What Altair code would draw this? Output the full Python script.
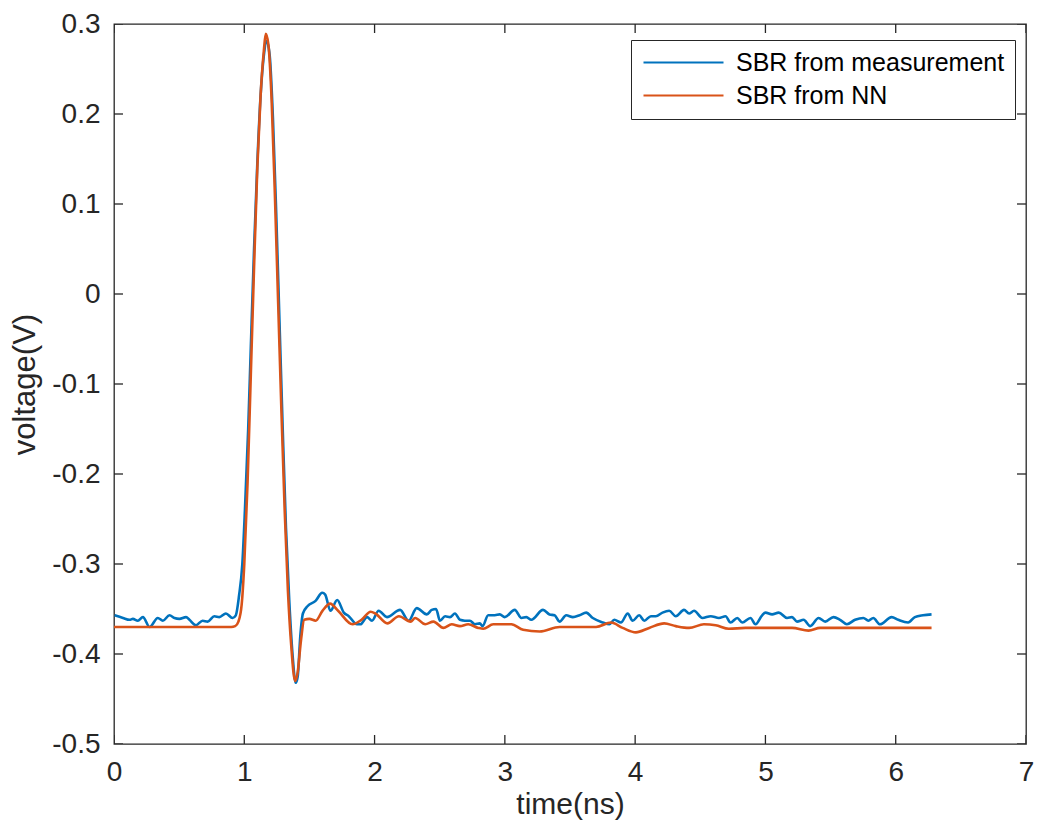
import altair as alt
import pandas as pd

series_names = ["SBR from measurement", "SBR from NN"]
series_colors = ["#0072BD", "#D95319"]
x_ticks = [0, 1, 2, 3, 4, 5, 6, 7]
y_ticks = [-0.5, -0.4, -0.3, -0.2, -0.1, 0, 0.1, 0.2, 0.3]
x_range = [0, 7]
y_range = [-0.5, 0.3]

meas_t = [0.005, 0.069, 0.120, 0.145, 0.183, 0.222, 0.273, 0.336, 0.375, 0.426,
          0.464, 0.502, 0.553, 0.579, 0.629, 0.680, 0.719, 0.770, 0.808, 0.859,
          0.910, 0.935, 0.960, 0.985, 1.005, 1.030, 1.050, 1.075, 1.100, 1.125,
          1.150, 1.172, 1.195, 1.220, 1.245, 1.270, 1.295, 1.320, 1.345, 1.370,
          1.395, 1.410, 1.430, 1.450, 1.485, 1.547, 1.598, 1.621, 1.661, 1.713,
          1.764, 1.802, 1.865, 1.891, 1.942, 1.980, 2.031, 2.095, 2.196, 2.261,
          2.324, 2.401, 2.439, 2.472, 2.502, 2.541, 2.579, 2.617, 2.655, 2.693,
          2.732, 2.770, 2.808, 2.829, 2.872, 2.923, 2.961, 2.999, 3.076, 3.127,
          3.165, 3.203, 3.293, 3.343, 3.382, 3.420, 3.471, 3.522, 3.573, 3.624,
          3.675, 3.752, 3.802, 3.840, 3.891, 3.943, 3.981, 4.031, 4.070, 4.121,
          4.159, 4.210, 4.261, 4.312, 4.375, 4.414, 4.452, 4.516, 4.580, 4.643,
          4.694, 4.732, 4.784, 4.822, 4.885, 4.924, 4.975, 5.000, 5.051, 5.102,
          5.166, 5.204, 5.242, 5.293, 5.344, 5.408, 5.459, 5.522, 5.573, 5.625,
          5.688, 5.752, 5.790, 5.828, 5.879, 5.969, 6.019, 6.095, 6.147, 6.210,
          6.275]
meas_v = [-0.357, -0.360, -0.362, -0.361, -0.363, -0.359, -0.370, -0.360, -0.363, -0.357,
          -0.360, -0.361, -0.359, -0.362, -0.368, -0.363, -0.364, -0.358, -0.359, -0.355,
          -0.360, -0.357, -0.335, -0.300, -0.240, -0.150, -0.060, 0.050, 0.145, 0.220,
          0.265, 0.281, 0.265, 0.195, 0.090, -0.030, -0.150, -0.260, -0.340, -0.400,
          -0.432, -0.425, -0.380, -0.355, -0.347, -0.341, -0.332, -0.334, -0.352, -0.340,
          -0.354, -0.358, -0.367, -0.367, -0.359, -0.363, -0.352, -0.359, -0.351, -0.363,
          -0.349, -0.356, -0.351, -0.350, -0.363, -0.358, -0.359, -0.355, -0.362, -0.363,
          -0.363, -0.367, -0.366, -0.369, -0.357, -0.357, -0.356, -0.359, -0.351, -0.360,
          -0.359, -0.362, -0.351, -0.356, -0.357, -0.364, -0.357, -0.359, -0.357, -0.354,
          -0.360, -0.365, -0.367, -0.362, -0.365, -0.355, -0.363, -0.357, -0.363, -0.358,
          -0.358, -0.354, -0.352, -0.358, -0.351, -0.355, -0.352, -0.360, -0.358, -0.360,
          -0.358, -0.365, -0.360, -0.365, -0.360, -0.367, -0.357, -0.354, -0.356, -0.354,
          -0.360, -0.359, -0.364, -0.362, -0.369, -0.360, -0.364, -0.359, -0.362, -0.367,
          -0.362, -0.360, -0.363, -0.360, -0.367, -0.359, -0.362, -0.365, -0.359, -0.357,
          -0.356]

nn_t = [0.0, 0.90, 0.93, 0.955, 0.98, 1.0, 1.025, 1.05, 1.075, 1.10,
        1.125, 1.15, 1.165, 1.185, 1.21, 1.235, 1.26, 1.285, 1.31, 1.335,
        1.36, 1.39, 1.41, 1.435, 1.46, 1.50, 1.548, 1.60, 1.659, 1.72,
        1.83, 1.90, 1.97, 2.006, 2.098, 2.187, 2.276, 2.312, 2.389, 2.452,
        2.528, 2.592, 2.655, 2.719, 2.796, 2.834, 2.911, 3.050, 3.140, 3.267,
        3.420, 3.547, 3.700, 3.815, 3.904, 4.006, 4.108, 4.223, 4.312, 4.414,
        4.528, 4.618, 4.719, 4.847, 5.000, 5.204, 5.331, 5.420, 5.637, 5.892,
        6.275]
nn_v = [-0.370, -0.370, -0.369, -0.364, -0.345, -0.300, -0.210, -0.090, 0.030, 0.140,
        0.220, 0.270, 0.289, 0.277, 0.215, 0.110, -0.010, -0.130, -0.240, -0.330,
        -0.390, -0.430, -0.420, -0.385, -0.362, -0.361, -0.363, -0.352, -0.344, -0.352,
        -0.367, -0.362, -0.353, -0.355, -0.366, -0.358, -0.364, -0.360, -0.367, -0.364,
        -0.371, -0.367, -0.369, -0.367, -0.371, -0.372, -0.367, -0.367, -0.373, -0.375,
        -0.370, -0.370, -0.370, -0.365, -0.371, -0.376, -0.371, -0.366, -0.369, -0.371,
        -0.367, -0.368, -0.372, -0.371, -0.371, -0.371, -0.374, -0.371, -0.371, -0.371,
        -0.371]

df_meas = pd.DataFrame({"t": meas_t, "v": meas_v, "series": series_names[0]})
df_nn = pd.DataFrame({"t": nn_t, "v": nn_v, "series": series_names[1]})
# inward box ticks: every x tick on both the bottom and top edges, every y tick on both sides
df_xt = pd.DataFrame([{"tx": a, "ty": b} for a in x_ticks for b in y_range])
df_yt = pd.DataFrame([{"tx": b, "ty": a} for a in y_ticks for b in x_range])

INK = "#262626"
FONT = "Liberation Sans"

xscale = alt.Scale(domain=x_range, nice=False, zero=False)
yscale = alt.Scale(domain=y_range, nice=False, zero=False)

ylabel_expr = "datum.value == 0 ? '0' : replace(format(datum.value, '.1f'), '\u2212', '-')"

color = alt.Color(
    "series:N",
    scale=alt.Scale(domain=series_names, range=series_colors),
    legend=alt.Legend(
        orient="none", legendX=517, legendY=16, title=None,
        symbolType="M-1,0H7", symbolSize=400, symbolStrokeWidth=2.2,
        labelFontSize=25, labelColor="black", labelFont=FONT, labelLimit=0,
        labelOffset=70, strokeColor=INK, fillColor="white", padding=10,
        rowPadding=7,
    ),
)

ax_x_main = alt.Axis(orient="bottom", values=x_ticks, format="d", ticks=False, domain=False,
                     grid=False, labelFontSize=28, labelPadding=14, labelColor=INK,
                     labelFlush=False, title="time(ns)", titleFontSize=30, titlePadding=3,
                     titleColor=INK, titleFontWeight="normal")
ax_y_main = alt.Axis(orient="left", values=y_ticks, labelExpr=ylabel_expr, ticks=False,
                     domain=False, grid=False, labelFontSize=28, labelPadding=14,
                     labelColor=INK, labelFlush=False, title="voltage(V)", titleFontSize=31,
                     titlePadding=10, titleColor=INK, titleFontWeight="normal")

blue = alt.Chart(df_meas).mark_line(strokeWidth=2.6, interpolate="monotone").encode(
    x=alt.X("t:Q", scale=xscale, axis=ax_x_main),
    y=alt.Y("v:Q", scale=yscale, axis=ax_y_main),
    color=color,
)
orange = alt.Chart(df_nn).mark_line(strokeWidth=2.6, interpolate="monotone").encode(
    x=alt.X("t:Q", scale=xscale, axis=None),
    y=alt.Y("v:Q", scale=yscale, axis=None),
    color=color,
)
xticks_layer = alt.Chart(df_xt).mark_tick(
    orient="vertical", size=18, thickness=1.3, color=INK, opacity=1, clip=True
).encode(
    x=alt.X("tx:Q", scale=xscale, axis=None),
    y=alt.Y("ty:Q", scale=yscale, axis=None),
)
yticks_layer = alt.Chart(df_yt).mark_tick(
    orient="horizontal", size=18, thickness=1.3, color=INK, opacity=1, clip=True
).encode(
    x=alt.X("tx:Q", scale=xscale, axis=None),
    y=alt.Y("ty:Q", scale=yscale, axis=None),
)

chart = alt.layer(blue, orange, xticks_layer, yticks_layer).resolve_scale(
    x="shared", y="shared"
).resolve_axis(
    x="independent", y="independent"
).properties(
    width=912, height=720,
    autosize=alt.AutoSizeParams(type="none"),
    padding={"left": 106, "top": 16, "right": 8, "bottom": 80},
    background="white",
).configure(
    font=FONT,
    view=alt.ViewConfig(stroke=INK, strokeWidth=1.3),
)

chart.save("out.html", embed_options={"renderer": "svg", "actions": False})
